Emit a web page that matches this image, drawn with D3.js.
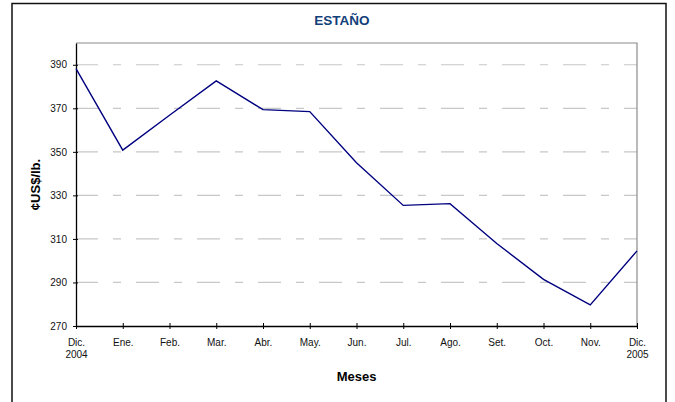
<!DOCTYPE html>
<html>
<head>
<meta charset="utf-8">
<script src="https://cdn.jsdelivr.net/npm/d3@7"></script>
<style>
  html, body { margin: 0; padding: 0; background: #fff; }
  svg { display: block; font-family: "Liberation Sans", Arial, sans-serif; }
</style>
</head>
<body>
<svg id="chart" width="675" height="402"></svg>
<script>
const months = ["Dic.|2004", "Ene.", "Feb.", "Mar.", "Abr.", "May.", "Jun.", "Jul.", "Ago.", "Set.", "Oct.", "Nov.", "Dic.|2005"];
const prices = [388.2, 350.8, 366.8, 382.6, 369.4, 368.5, 345.0, 325.4, 326.2, 307.9, 291.4, 279.7, 304.5];
const yTicks = [270, 290, 310, 330, 350, 370, 390];
const yDomain = [270, 400];
const title = "ESTAÑO";
const yTitle = "¢US$/lb.";
const xTitle = "Meses";

const svg = d3.select("#chart");
const L = 76, R = 637, T = 43, B = 326;

// outer frame
svg.append("rect").attr("x", 12).attr("y", 3.5).attr("width", 654).attr("height", 420)
  .attr("fill", "#fff").attr("stroke", "#111").attr("stroke-width", 1.5);

const x = d3.scalePoint().domain(d3.range(months.length)).range([L, R]);
const y = d3.scaleLinear().domain(yDomain).range([B, T]);

// gridlines
svg.append("g").selectAll("line").data(yTicks.slice(1)).join("line")
  .attr("x1", L).attr("x2", R)
  .attr("y1", d => y(d)).attr("y2", d => y(d))
  .attr("stroke", "#c8c8c8").attr("stroke-width", 1.2)
  .attr("stroke-dasharray", "23,15,8,15").attr("stroke-dashoffset", 1);

// plot border (top/right gray)
svg.append("path").attr("d", `M${L},${T}H${R}V${B}`)
  .attr("fill", "none").attr("stroke", "#8c8c8c").attr("stroke-width", 1.2);

// y axis
const yAxis = d3.axisLeft(y).tickValues(yTicks).tickSize(4).tickSizeOuter(0).tickPadding(5);
const gy = svg.append("g").attr("transform", `translate(${L},0)`).call(yAxis);
gy.select(".domain").attr("stroke", "#000").attr("stroke-width", 1.3);
gy.selectAll(".tick line").attr("stroke", "#000").attr("x2", -3).attr("x1", 2);
gy.selectAll(".tick text").attr("font-size", 10).attr("fill", "#111")
  .attr("font-family", "Liberation Sans, Arial, sans-serif").attr("x", -9);

// x axis
const xAxis = d3.axisBottom(x).tickSize(3).tickSizeOuter(0).tickFormat(() => "");
const gx = svg.append("g").attr("transform", `translate(0,${B})`).call(xAxis);
gx.select(".domain").attr("stroke", "#000").attr("stroke-width", 1.3);
gx.selectAll(".tick line").attr("stroke", "#000").attr("y1", -3).attr("y2", 3);
gx.selectAll(".tick").each(function(d) {
  const parts = months[d].split("|");
  const t = d3.select(this).append("text").attr("fill", "#111").attr("font-size", 10)
    .attr("text-anchor", "middle");
  parts.forEach((p, i) => t.append("tspan").attr("x", 0).attr("y", 20 + i * 12).text(p));
});

// line
svg.append("path").datum(prices)
  .attr("d", d3.line().x((d, i) => x(i)).y(d => y(d)))
  .attr("fill", "none").attr("stroke", "#000080").attr("stroke-width", 1.4)
  .attr("stroke-linejoin", "miter");

// titles
svg.append("text").attr("x", 342).attr("y", 25).attr("text-anchor", "middle")
  .attr("font-size", 13.5).attr("font-weight", "bold").attr("fill", "#12407a").text(title);
svg.append("text").attr("x", (L + R) / 2).attr("y", 381).attr("text-anchor", "middle")
  .attr("font-size", 13).attr("font-weight", "bold").attr("fill", "#000").text(xTitle);
svg.append("text").attr("transform", `translate(39.5,${(T + B) / 2}) rotate(-90)`)
  .attr("text-anchor", "middle").attr("font-size", 13).attr("font-weight", "bold")
  .attr("fill", "#000").text(yTitle);
</script>
</body>
</html>
